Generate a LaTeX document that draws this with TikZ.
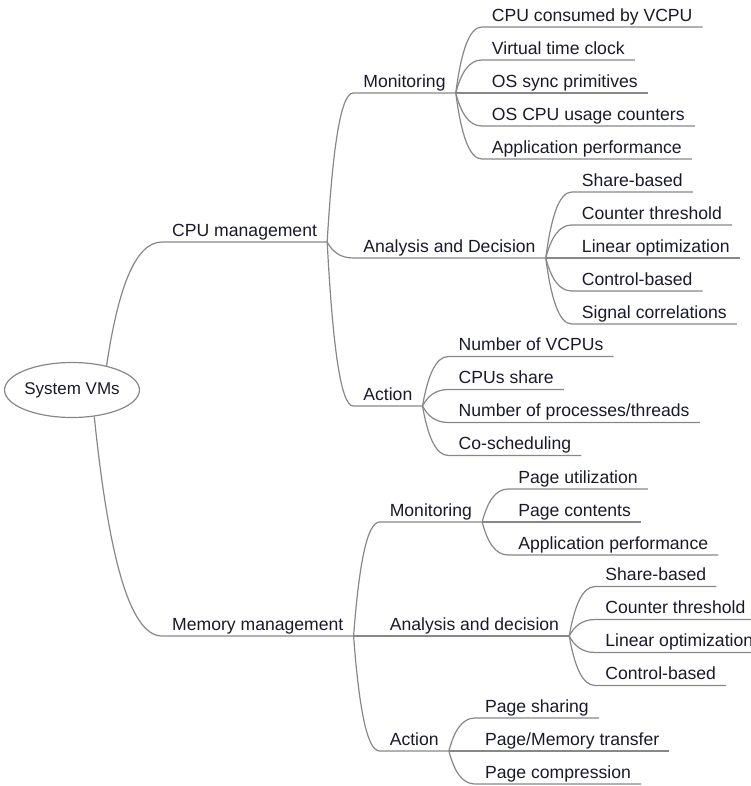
\documentclass[tikz,border=0pt]{standalone}
\usepackage{fontspec}
\setmainfont{Liberation Sans}
\usetikzlibrary{calc,shapes.geometric}

\definecolor{linegray}{RGB}{135,135,135}
\definecolor{inkblue}{RGB}{25,25,45}

\tikzset{
  link/.style={draw=linegray, line width=1.2pt},
  topic/.style={anchor=south west, inner xsep=10pt, inner ysep=5.5pt, text depth=0pt,
    text=inkblue, font=\fontsize{17.6}{20}\selectfont},
  central/.style={ellipse, draw=linegray, line width=1.2pt, inner sep=0pt,
    minimum width=122pt, minimum height=55pt, text=inkblue, font=\fontsize{17}{20}\selectfont},
}

% curve from a point to the underline of a topic
\newcommand\branch[2]{%
  \draw[link] let \p1=(#1), \p2=(#2.south west) in
    (\p1) .. controls ({\x1+0.2*(\x2-\x1)},{\y1+0.6*(\y2-\y1)}) and ({\x1+0.5*(\x2-\x1)},\y2) .. (\p2)
    -- (#2.south east);}

\begin{document}
\begin{tikzpicture}[x=1pt,y=-1pt]
\useasboundingbox (0,0) rectangle (751,786);

\node[central] (root) at (72,390) {System VMs};

\node[topic] (cpu) at (162,242) {CPU management};
\node[topic] (mem) at (162,636) {Memory management};
\branch{root.35}{cpu}
\branch{root.-50}{mem}

% CPU management
\node[topic] (cmon) at ($(cpu.south east)+(26,-149)$) {Monitoring};
\node[topic] (cana) at ($(cpu.south east)+(26,16)$) {Analysis and Decision};
\node[topic] (cact) at ($(cpu.south east)+(26,164)$) {Action};
\foreach \k in {cmon,cana,cact} {\branch{cpu.south east}{\k}}

\foreach \t [count=\i] in {CPU consumed by VCPU, Virtual time clock, OS sync primitives,
    OS CPU usage counters, Application performance} {
  \node[topic] (cmon-\i) at ($(cmon.south east)+(26,{(\i-3)*33})$) {\t};
  \branch{cmon.south east}{cmon-\i}
}
\foreach \t [count=\i] in {Share-based, Counter threshold, Linear optimization,
    Control-based, Signal correlations} {
  \node[topic] (cana-\i) at ($(cana.south east)+(26,{(\i-3)*33})$) {\t};
  \branch{cana.south east}{cana-\i}
}
\foreach \t [count=\i] in {Number of VCPUs, CPUs share, Number of processes/threads,
    Co-scheduling} {
  \node[topic] (cact-\i) at ($(cact.south east)+(26,{(\i-2.5)*33})$) {\t};
  \branch{cact.south east}{cact-\i}
}

% Memory management
\node[topic] (mmon) at ($(mem.south east)+(26,-114)$) {Monitoring};
\node[topic] (mana) at ($(mem.south east)+(26,0)$) {Analysis and decision};
\node[topic] (mact) at ($(mem.south east)+(26,115)$) {Action};
\foreach \k in {mmon,mana,mact} {\branch{mem.south east}{\k}}

\foreach \t [count=\i] in {Page utilization, Page contents, Application performance} {
  \node[topic] (mmon-\i) at ($(mmon.south east)+(26,{(\i-2)*33})$) {\t};
  \branch{mmon.south east}{mmon-\i}
}
\foreach \t [count=\i] in {Share-based, Counter threshold, Linear optimization,
    Control-based} {
  \node[topic] (mana-\i) at ($(mana.south east)+(26,{(\i-2.5)*33})$) {\t};
  \branch{mana.south east}{mana-\i}
}
\foreach \t [count=\i] in {Page sharing, Page/Memory transfer, Page compression} {
  \node[topic] (mact-\i) at ($(mact.south east)+(26,{(\i-2)*33})$) {\t};
  \branch{mact.south east}{mact-\i}
}
\end{tikzpicture}
\end{document}
